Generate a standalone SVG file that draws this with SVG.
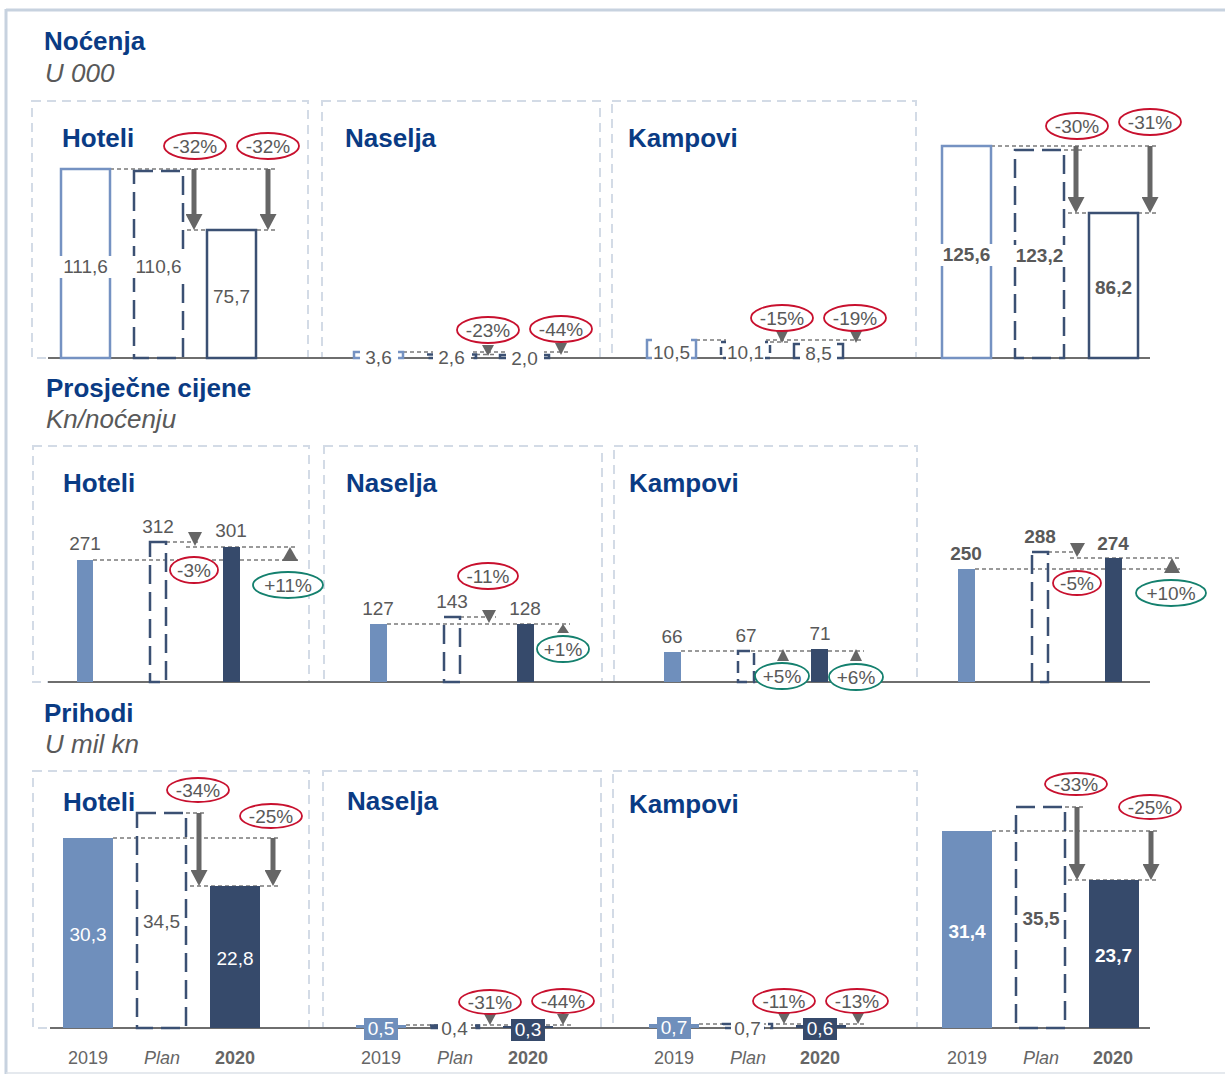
<svg xmlns="http://www.w3.org/2000/svg" width="1225" height="1076" viewBox="0 0 1225 1076">
<defs>
<style>
text{font-family:"Liberation Sans",Arial,sans-serif}
.ti{font-size:26px;font-weight:bold;fill:#0a3b84}
.su{font-size:26px;font-style:italic;fill:#595959}
.v{font-size:19px;fill:#595959;text-anchor:middle}
.vb{font-size:19px;fill:#595959;text-anchor:middle;font-weight:bold}
.vw{font-size:19px;fill:#fff;text-anchor:middle}
.vwb{font-size:19px;fill:#fff;text-anchor:middle;font-weight:bold}
.cat{font-size:18px;fill:#666;text-anchor:middle}
.box{fill:none;stroke:#d3dbe6;stroke-width:2;stroke-dasharray:9 6}
.axis{stroke:#6e6e6e;stroke-width:2}
.ref{stroke:#7a7a7a;stroke-width:1.3;stroke-dasharray:4 3;fill:none}
.arr{stroke:#666;stroke-width:5}
.tri{fill:#666}
.o19{fill:none;stroke:#7592c2;stroke-width:2.5}
.f19{fill:#6f8fbc}
.pl{fill:none;stroke:#3b5073;stroke-width:2.5;stroke-dasharray:19 8}
.o20{fill:none;stroke:#3b5073;stroke-width:2.5}
.f20{fill:#364a6b}
.wb{fill:#fff}
.er{fill:#fff;stroke:#c8102e;stroke-width:1.8}
.eg{fill:#fff;stroke:#14806e;stroke-width:1.8}
</style>
<marker id="ah" viewBox="0 0 16 17" refX="0" refY="8.5" markerWidth="16" markerHeight="17" markerUnits="userSpaceOnUse" orient="auto">
<path d="M0,0 L16,8.5 L0,17 z" fill="#666"/>
</marker>
</defs>
<rect x="0" y="0" width="1225" height="1076" fill="#fff"/>
<g id="frame">
<line x1="6" y1="10" x2="1225" y2="10" stroke="#c7d2df" stroke-width="3"/>
<line x1="6" y1="9" x2="6" y2="1074" stroke="#c7d2df" stroke-width="3"/>
<line x1="6" y1="1073" x2="1225" y2="1073" stroke="#dde2e9" stroke-width="1.5"/>
</g>
<g id="panels">
<rect class="box" x="32" y="101" width="276" height="257"/>
<rect class="box" x="322" y="101" width="278" height="257"/>
<rect class="box" x="612" y="101" width="304" height="257"/>
<rect class="box" x="33" y="446" width="276" height="236"/>
<rect class="box" x="324" y="446" width="278" height="236"/>
<rect class="box" x="614" y="446" width="303" height="236"/>
<rect class="box" x="33" y="771" width="276" height="257"/>
<rect class="box" x="323" y="771" width="278" height="257"/>
<rect class="box" x="613" y="771" width="304" height="257"/>
</g>
<g id="titles">
<text class="ti" x="44" y="50">Noćenja</text>
<text class="su" x="45" y="82">U 000</text>
<text class="ti" x="46" y="397">Prosječne cijene</text>
<text class="su" x="46" y="428">Kn/noćenju</text>
<text class="ti" x="44" y="722">Prihodi</text>
<text class="su" x="45" y="753">U mil kn</text>
<text class="ti" x="62" y="147">Hoteli</text>
<text class="ti" x="345" y="147">Naselja</text>
<text class="ti" x="628" y="147">Kampovi</text>
<text class="ti" x="63" y="492">Hoteli</text>
<text class="ti" x="346" y="492">Naselja</text>
<text class="ti" x="629" y="492">Kampovi</text>
<text class="ti" x="63" y="811">Hoteli</text>
<text class="ti" x="347" y="810">Naselja</text>
<text class="ti" x="629" y="813">Kampovi</text>
</g>
<g id="connectors">
<line class="axis" x1="48" y1="358" x2="1150" y2="358"/>
<line class="axis" x1="48" y1="682" x2="1150" y2="682"/>
<line class="axis" x1="50" y1="1028" x2="1150" y2="1028"/>
<line class="ref" x1="110" y1="169" x2="276" y2="169"/>
<line class="ref" x1="187" y1="230" x2="277" y2="230"/>
<line class="arr" x1="194" y1="169" x2="194" y2="214" marker-end="url(#ah)"/>
<line class="arr" x1="268" y1="169" x2="268" y2="214" marker-end="url(#ah)"/>
<line class="ref" x1="403" y1="352" x2="570" y2="352"/>
<line class="ref" x1="476" y1="354.5" x2="497" y2="354.5"/>
<polygon class="tri" points="482,345 494,345 488,356"/>
<polygon class="tri" points="555,343 567,343 561,355"/>
<line class="ref" x1="696" y1="340" x2="862" y2="340"/>
<line class="ref" x1="770" y1="342" x2="790" y2="342"/>
<polygon class="tri" points="776,331 788,331 782,343"/>
<polygon class="tri" points="850,331 862,331 856,343"/>
<line class="ref" x1="991" y1="146" x2="1158" y2="146"/>
<line class="ref" x1="1064" y1="150" x2="1085" y2="150"/>
<line class="ref" x1="1068" y1="213" x2="1158" y2="213"/>
<line class="arr" x1="1076" y1="146" x2="1076" y2="197" marker-end="url(#ah)"/>
<line class="arr" x1="1150" y1="146" x2="1150" y2="197" marker-end="url(#ah)"/>
<line class="ref" x1="93" y1="560" x2="298" y2="560"/>
<line class="ref" x1="166" y1="542" x2="200" y2="542"/>
<line class="ref" x1="186" y1="547" x2="298" y2="547"/>
<polygon class="tri" points="188,532 202,532 195,546"/>
<polygon class="tri" points="282,561 298,561 290,547"/>
<line class="ref" x1="387" y1="624" x2="570" y2="624"/>
<line class="ref" x1="460" y1="617" x2="496" y2="617"/>
<polygon class="tri" points="482,610 496,610 489,623"/>
<polygon class="tri" points="557,633 569,633 563,624"/>
<line class="ref" x1="681" y1="651" x2="864" y2="651"/>
<polygon class="tri" points="777,661 789,661 783,649"/>
<polygon class="tri" points="850,661 862,661 856,649"/>
<line class="ref" x1="975" y1="569" x2="1180" y2="569"/>
<line class="ref" x1="1048" y1="552" x2="1082" y2="552"/>
<line class="ref" x1="1070" y1="558" x2="1180" y2="558"/>
<polygon class="tri" points="1070,543 1085,543 1077,557"/>
<polygon class="tri" points="1164,573 1180,573 1172,558"/>
<line class="ref" x1="113" y1="838" x2="280" y2="838"/>
<line class="ref" x1="186" y1="813" x2="205" y2="813"/>
<line class="ref" x1="190" y1="886" x2="280" y2="886"/>
<line class="arr" x1="199" y1="813" x2="199" y2="870" marker-end="url(#ah)"/>
<line class="arr" x1="273" y1="838" x2="273" y2="870" marker-end="url(#ah)"/>
<line class="ref" x1="406" y1="1025" x2="572" y2="1025"/>
<polygon class="tri" points="484,1014 496,1014 490,1025"/>
<polygon class="tri" points="557,1014 569,1014 563,1025"/>
<line class="ref" x1="699" y1="1024" x2="866" y2="1024"/>
<polygon class="tri" points="778,1013 790,1013 784,1024"/>
<polygon class="tri" points="852,1013 864,1013 858,1024"/>
<line class="ref" x1="992" y1="831" x2="1158" y2="831"/>
<line class="ref" x1="1065" y1="807" x2="1084" y2="807"/>
<line class="ref" x1="1068" y1="880" x2="1158" y2="880"/>
<line class="arr" x1="1077" y1="807" x2="1077" y2="864" marker-end="url(#ah)"/>
<line class="arr" x1="1151" y1="831" x2="1151" y2="864" marker-end="url(#ah)"/>
</g>
<g id="row1-hoteli">
<rect class="o19" x="61" y="169" width="49" height="189"/>
<rect class="pl" x="134" y="171" width="49" height="187"/>
<rect class="o20" x="207" y="230" width="49" height="128"/>
<rect class="wb" x="56" y="256" width="59" height="22"/>
<text class="v" x="85.5" y="273">111,6</text>
<rect class="wb" x="129" y="256" width="59" height="22"/>
<text class="v" x="158.5" y="273">110,6</text>
<text class="v" x="231.5" y="303">75,7</text>
<ellipse class="er" cx="195" cy="146" rx="31" ry="13"/>
<text class="v" x="195" y="152.5">-32%</text>
<ellipse class="er" cx="268" cy="146" rx="31" ry="13"/>
<text class="v" x="268" y="152.5">-32%</text>
</g>
<g id="row1-naselja">
<rect class="o19" x="354" y="352" width="49" height="6"/>
<rect class="pl" x="427" y="354.5" width="49" height="3.5" style="stroke-dasharray:10 5"/>
<rect class="o20" x="500" y="355" width="49" height="3"/>
<rect class="wb" x="360" y="346" width="38" height="20"/>
<text class="v" x="378.5" y="364">3,6</text>
<rect class="wb" x="433" y="346" width="38" height="20"/>
<text class="v" x="451.5" y="364">2,6</text>
<rect class="wb" x="506" y="347" width="38" height="20"/>
<text class="v" x="524.5" y="365">2,0</text>
<ellipse class="er" cx="488" cy="330" rx="31" ry="13"/>
<text class="v" x="488" y="336.5">-23%</text>
<ellipse class="er" cx="561" cy="329" rx="31" ry="13"/>
<text class="v" x="561" y="335.5">-44%</text>
</g>
<g id="row1-kampovi">
<rect class="o19" x="647" y="340" width="49" height="18"/>
<rect class="pl" x="721" y="342" width="49" height="16" style="stroke-dasharray:8 5"/>
<rect class="o20" x="794" y="344" width="49" height="14"/>
<rect class="wb" x="652" y="338" width="39" height="23"/>
<text class="v" x="671.5" y="359">10,5</text>
<rect class="wb" x="726" y="339" width="39" height="23"/>
<text class="v" x="745.5" y="359">10,1</text>
<rect class="wb" x="800" y="341" width="37" height="22"/>
<text class="v" x="818.5" y="360">8,5</text>
<ellipse class="er" cx="782" cy="318" rx="31" ry="13"/>
<text class="v" x="782" y="324.5">-15%</text>
<ellipse class="er" cx="855" cy="318" rx="31" ry="13"/>
<text class="v" x="855" y="324.5">-19%</text>
</g>
<g id="row1-ukupno">
<rect class="o19" x="942" y="146" width="49" height="212"/>
<rect class="pl" x="1015" y="150" width="49" height="208"/>
<rect class="o20" x="1089" y="213" width="49" height="145"/>
<rect class="wb" x="936" y="244" width="61" height="22"/>
<text class="vb" x="966.5" y="261">125,6</text>
<rect class="wb" x="1009" y="245" width="61" height="22"/>
<text class="vb" x="1039.5" y="262">123,2</text>
<text class="vb" x="1113.5" y="294">86,2</text>
<ellipse class="er" cx="1077" cy="126" rx="31" ry="13"/>
<text class="v" x="1077" y="132.5">-30%</text>
<ellipse class="er" cx="1150" cy="122" rx="31" ry="13"/>
<text class="v" x="1150" y="128.5">-31%</text>
</g>
<g id="row2-hoteli">
<rect class="f19" x="77" y="560" width="16" height="122"/>
<rect class="pl" x="150" y="542" width="16" height="140"/>
<rect class="f20" x="223" y="547" width="17" height="135"/>
<text class="v" x="85" y="550">271</text>
<text class="v" x="158" y="533">312</text>
<text class="v" x="231" y="537">301</text>
<ellipse class="er" cx="194" cy="570" rx="24" ry="13"/>
<text class="v" x="194" y="576.5">-3%</text>
<ellipse class="eg" cx="288" cy="585" rx="35" ry="13"/>
<text class="v" x="288" y="591.5">+11%</text>
</g>
<g id="row2-naselja">
<rect class="f19" x="370" y="624" width="17" height="58"/>
<rect class="pl" x="444" y="617" width="16" height="65"/>
<rect class="f20" x="517" y="624" width="17" height="58"/>
<text class="v" x="378" y="615">127</text>
<text class="v" x="452" y="608">143</text>
<text class="v" x="525" y="615">128</text>
<ellipse class="er" cx="488" cy="576" rx="30" ry="13"/>
<text class="v" x="488" y="582.5">-11%</text>
<ellipse class="eg" cx="563" cy="649" rx="26" ry="13"/>
<text class="v" x="563" y="655.5">+1%</text>
</g>
<g id="row2-kampovi">
<rect class="f19" x="664" y="652" width="17" height="30"/>
<rect class="pl" x="738" y="651" width="16" height="31" style="stroke-dasharray:12 6"/>
<rect class="f20" x="811" y="649" width="17" height="33"/>
<text class="v" x="672" y="643">66</text>
<text class="v" x="746" y="642">67</text>
<text class="v" x="820" y="640">71</text>
<ellipse class="eg" cx="782" cy="676" rx="27" ry="13"/>
<text class="v" x="782" y="682.5">+5%</text>
<ellipse class="eg" cx="856" cy="677" rx="27" ry="13"/>
<text class="v" x="856" y="683.5">+6%</text>
</g>
<g id="row2-ukupno">
<rect class="f19" x="958" y="569" width="17" height="113"/>
<rect class="pl" x="1032" y="552" width="16" height="130"/>
<rect class="f20" x="1105" y="558" width="17" height="124"/>
<text class="vb" x="966" y="560">250</text>
<text class="vb" x="1040" y="543">288</text>
<text class="vb" x="1113" y="550">274</text>
<ellipse class="er" cx="1077" cy="583" rx="24" ry="12"/>
<text class="v" x="1077" y="589.5">-5%</text>
<ellipse class="eg" cx="1171" cy="593" rx="35" ry="13"/>
<text class="v" x="1171" y="599.5">+10%</text>
</g>
<g id="row3-hoteli">
<rect class="f19" x="63" y="838" width="50" height="190"/>
<rect class="pl" x="137" y="813" width="49" height="215"/>
<rect class="f20" x="210" y="886" width="50" height="142"/>
<text class="vw" x="88" y="941">30,3</text>
<rect class="wb" x="142" y="911" width="39" height="22"/>
<text class="v" x="161.5" y="928">34,5</text>
<text class="vw" x="235" y="965">22,8</text>
<ellipse class="er" cx="198" cy="790" rx="31" ry="12"/>
<text class="v" x="198" y="796.5">-34%</text>
<ellipse class="er" cx="271" cy="816" rx="31" ry="12"/>
<text class="v" x="271" y="822.5">-25%</text>
</g>
<g id="row3-naselja">
<rect class="f19" x="356" y="1025" width="50" height="3"/>
<rect class="pl" x="430" y="1025.5" width="49" height="2.5" style="stroke-dasharray:10 5"/>
<rect class="f20" x="503" y="1026" width="50" height="2"/>
<rect class="f19" x="364" y="1018" width="34" height="22"/>
<text class="vw" x="381" y="1035">0,5</text>
<rect class="wb" x="438" y="1018" width="33" height="21"/>
<text class="v" x="454.5" y="1035">0,4</text>
<rect class="f20" x="511" y="1019" width="34" height="22"/>
<text class="vw" x="528" y="1036">0,3</text>
<ellipse class="er" cx="490" cy="1002" rx="31" ry="12"/>
<text class="v" x="490" y="1008.5">-31%</text>
<ellipse class="er" cx="563" cy="1001" rx="31" ry="12"/>
<text class="v" x="563" y="1007.5">-44%</text>
</g>
<g id="row3-kampovi">
<rect class="f19" x="649" y="1024" width="50" height="4"/>
<rect class="pl" x="723" y="1024" width="49" height="4" style="stroke-dasharray:10 5"/>
<rect class="f20" x="796" y="1025" width="50" height="3"/>
<rect class="f19" x="657" y="1017" width="34" height="22"/>
<text class="vw" x="674" y="1034">0,7</text>
<rect class="wb" x="731" y="1018" width="33" height="21"/>
<text class="v" x="747.5" y="1035">0,7</text>
<rect class="f20" x="803" y="1018" width="34" height="22"/>
<text class="vw" x="820" y="1035">0,6</text>
<ellipse class="er" cx="784" cy="1001" rx="31" ry="12"/>
<text class="v" x="784" y="1007.5">-11%</text>
<ellipse class="er" cx="857" cy="1001" rx="31" ry="12"/>
<text class="v" x="857" y="1007.5">-13%</text>
</g>
<g id="row3-ukupno">
<rect class="f19" x="942" y="831" width="50" height="197"/>
<rect class="pl" x="1016" y="807" width="49" height="221"/>
<rect class="f20" x="1089" y="880" width="50" height="148"/>
<text class="vwb" x="967" y="938">31,4</text>
<rect class="wb" x="1019" y="908" width="44" height="22"/>
<text class="vb" x="1041" y="925">35,5</text>
<text class="vwb" x="1113.5" y="962">23,7</text>
<ellipse class="er" cx="1076" cy="784" rx="31" ry="11"/>
<text class="v" x="1076" y="790.5">-33%</text>
<ellipse class="er" cx="1150" cy="807" rx="31" ry="12"/>
<text class="v" x="1150" y="813.5">-25%</text>
</g>
<g id="categories">
<text class="cat" x="88" y="1064">2019</text>
<text class="cat" x="162" y="1064" font-style="italic">Plan</text>
<text class="cat" x="235" y="1064" font-weight="bold">2020</text>
<text class="cat" x="381" y="1064">2019</text>
<text class="cat" x="455" y="1064" font-style="italic">Plan</text>
<text class="cat" x="528" y="1064" font-weight="bold">2020</text>
<text class="cat" x="674" y="1064">2019</text>
<text class="cat" x="748" y="1064" font-style="italic">Plan</text>
<text class="cat" x="820" y="1064" font-weight="bold">2020</text>
<text class="cat" x="967" y="1064">2019</text>
<text class="cat" x="1041" y="1064" font-style="italic">Plan</text>
<text class="cat" x="1113" y="1064" font-weight="bold">2020</text>
</g>
</svg>
